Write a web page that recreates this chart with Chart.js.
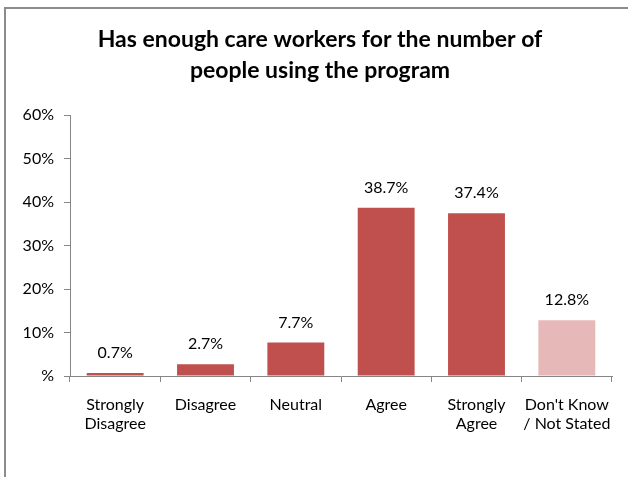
<!DOCTYPE html>
<html>
<head>
<meta charset="utf-8">
<script src="https://cdn.jsdelivr.net/npm/chart.js@4/dist/chart.umd.min.js"></script>
<style>
  html, body { margin: 0; padding: 0; background: #fff; }
  #wrap { position: relative; width: 628px; height: 477px; overflow: hidden; }
  #frame { position: absolute; left: 4px; top: 7px; right: -10px; bottom: -10px;
           border-top: 2px solid #8c8c8c; border-left: 2px solid #8c8c8c; }
  canvas { position: absolute; left: 0; top: 0; }
</style>
</head>
<body>
<div id="wrap">
  <div id="frame"></div>
  <canvas id="chart" width="628" height="477"></canvas>
</div>
<script>
const categories = [["Strongly", "Disagree"], "Disagree", "Neutral", "Agree", ["Strongly", "Agree"], ["Don't Know", "/ Not Stated"]];
const values = [0.7, 2.7, 7.7, 38.7, 37.4, 12.8];
const barColors = ["#C0504D", "#C0504D", "#C0504D", "#C0504D", "#C0504D", "#E6B9B8"];
const yTicks = [0, 10, 20, 30, 40, 50, 60];
const titleLines = ["Has enough care workers for the number of", "people using the program"];

const FONT = "Lato, 'Open Sans', sans-serif";
const AXIS = "#868686";

// two-line heading centred over the frame
const heading = {
  id: "heading",
  afterDraw(chart) {
    const ctx = chart.ctx;
    ctx.save();
    ctx.font = "bold 23px " + FONT;
    ctx.fillStyle = "#000";
    ctx.textAlign = "center";
    ctx.textBaseline = "middle";
    titleLines.forEach((line, i) => ctx.fillText(line, 320, 40 + i * 31));
    ctx.restore();
  }
};

// value labels written above each bar
const barValueLabels = {
  id: "barValueLabels",
  afterDatasetsDraw(chart) {
    const ctx = chart.ctx;
    const meta = chart.getDatasetMeta(0);
    ctx.save();
    ctx.font = "16px " + FONT;
    ctx.fillStyle = "#000";
    ctx.textAlign = "center";
    ctx.textBaseline = "middle";
    meta.data.forEach((bar, i) => {
      ctx.fillText(values[i].toFixed(1) + "%", bar.x, bar.y - 20);
    });
    ctx.restore();
  }
};

new Chart(document.getElementById("chart"), {
  type: "bar",
  data: {
    labels: categories,
    datasets: [{
      data: values,
      backgroundColor: barColors,
      borderWidth: 0,
      barPercentage: 0.63,
      categoryPercentage: 1.0
    }]
  },
  options: {
    responsive: false,
    animation: false,
    layout: { padding: { left: 10, right: 16, top: 115, bottom: 0 } },
    plugins: {
      legend: { display: false },
      tooltip: { enabled: false },
      title: { display: false }
    },
    scales: {
      y: {
        min: 0,
        max: 60,
        afterBuildTicks(scale) { scale.ticks = yTicks.map(v => ({ value: v })); },
        afterFit(scale) { scale.width = 60; },
        ticks: {
          color: "#000",
          padding: 10,
          font: { family: FONT, size: 16 },
          callback: v => (v === 0 ? "%" : v + "%")
        },
        grid: { drawOnChartArea: false, drawTicks: true, tickLength: 6, color: AXIS },
        border: { color: AXIS, width: 1 }
      },
      x: {
        afterFit(scale) { scale.height = 101; },
        ticks: {
          color: "#000",
          padding: 13,
          maxRotation: 0,
          autoSkip: false,
          font: { family: FONT, size: 16, lineHeight: 1.2 }
        },
        grid: { offset: true, drawOnChartArea: false, drawTicks: true, tickLength: 6, color: AXIS },
        border: { color: AXIS, width: 1 }
      }
    }
  },
  plugins: [barValueLabels, heading]
});
</script>
</body>
</html>
